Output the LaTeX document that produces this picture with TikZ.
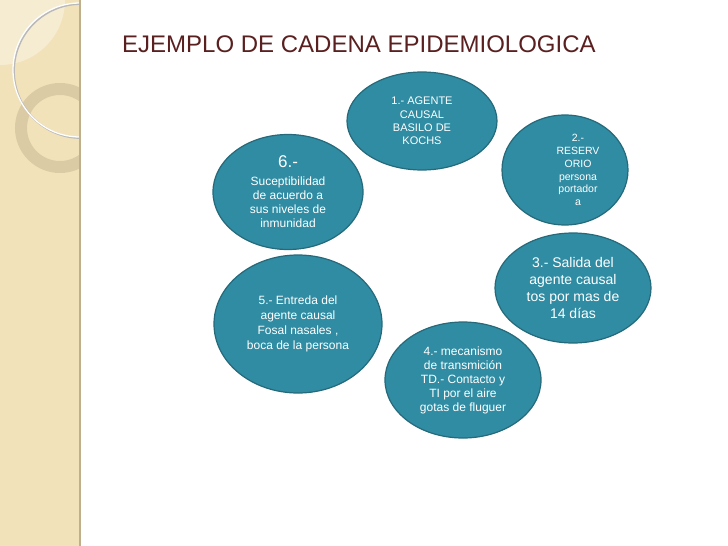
\documentclass[tikz,border=0pt]{standalone}
\usepackage{fontspec}
\setmainfont{Liberation Sans}
\usetikzlibrary{shapes}
\definecolor{cadena-teal}{HTML}{2F8CA3}
\definecolor{cadena-edge}{HTML}{25697A}
\definecolor{cadena-title}{HTML}{5A2020}
\definecolor{panel-beige}{HTML}{F2E2BA}
\definecolor{panel-line}{HTML}{BFAF8C}
\tikzset{
  etapa/.style 2 args={
    ellipse,
    draw=cadena-edge,
    fill=cadena-teal,
    line width=1.2pt,
    text=white,
    align=center,
    inner sep=0pt,
    minimum width=#1,
    minimum height=#2},
}

\begin{document}
\begin{tikzpicture}[x=1pt, y=-1pt,
  txt/.style 2 args={font=\fontsize{#1}{#2}\selectfont}]
  \useasboundingbox (0,0) rectangle (728,546);
  \fill[white] (0,0) rectangle (728,546);

  % side panel
  \fill[panel-beige] (0,0) rectangle (80,546);
  \begin{scope}
    \clip (0,0) rectangle (80,546);
    \fill[white, opacity=0.35] (0,0) circle (65pt);
    \draw[panel-line, line width=12pt, opacity=0.45] (60,128) circle (39pt);
    \draw[gray!55, line width=1.8pt] (81,71) circle (67pt);
    \draw[white, line width=1.3pt] (80,70) circle (67pt);
  \end{scope}
  \draw[panel-line, line width=2pt] (80,0) -- (80,546);

  % title
  \node[anchor=base west, text=cadena-title, inner sep=0pt,
    font=\fontsize{24}{28}\selectfont] (titulo) at (122,52)
    {EJEMPLO DE CADENA EPIDEMIOLOGICA};

  % links of the chain
  \node[etapa={150pt}{98pt}, txt={11}{13.3}] (agente) at (422,121)
    {1.- AGENTE\\CAUSAL\\BASILO DE\\KOCHS};
  \node[etapa={126pt}{110pt}] (reservorio) at (565,170) {};
  \node[text=white, align=center, inner sep=0pt, txt={10.5}{12.8}]
    (reservorio-txt) at ([xshift=13pt]reservorio.center)
    {2.-\\RESERV\\ORIO\\persona\\portador\\a};
  \node[etapa={156pt}{110pt}, txt={14}{16.7}] (salida) at (573,288)
    {3.- Salida del\\agente causal\\tos por mas de\\14 días};
  \node[etapa={156pt}{116pt}, txt={12}{14}] (transmision) at (463,380)
    {4.- mecanismo\\de transmición\\TD.- Contacto y\\TI por el aire\\gotas de fluguer};
  \node[etapa={168pt}{138pt}, txt={12}{15}] (entrada) at (298,324)
    {5.- Entreda del\\agente causal\\Fosal nasales ,\\boca de la persona};
  \node[etapa={150pt}{115pt}, txt={12}{14.2}] (huesped) at (288,192)
    {{\fontsize{17}{18}\selectfont 6.-}\\[3pt]Suceptibilidad\\de acuerdo a\\sus niveles de\\inmunidad};
\end{tikzpicture}
\end{document}
